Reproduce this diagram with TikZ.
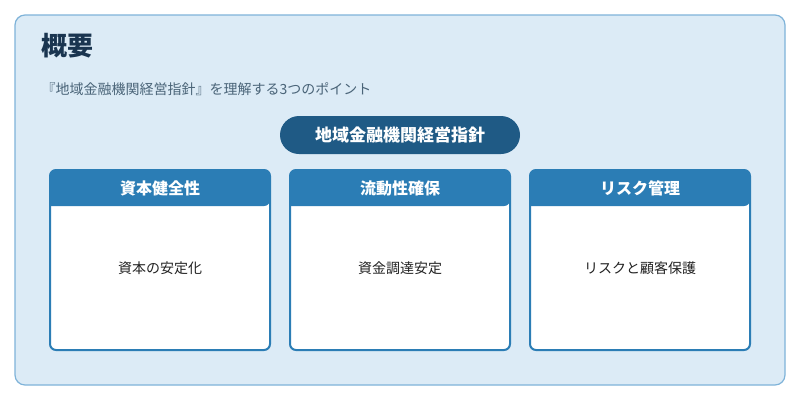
\documentclass[tikz,border=0pt]{standalone}
\usepackage{fontspec}
\setmainfont{Noto Sans CJK JP}
\definecolor{bgc}{HTML}{DCEBF6}
\definecolor{bdc}{HTML}{7FB3D9}
\definecolor{ttl}{HTML}{1A3550}
\definecolor{sub}{HTML}{4A6478}
\definecolor{pill}{HTML}{1F5A85}
\definecolor{hdr}{HTML}{2B7DB5}
\definecolor{txt}{HTML}{222222}
\tikzset{
  hdrtext/.style={text=white,font=\fontsize{16}{18}\selectfont\bfseries},
  bodytext/.style={text=txt,font=\fontsize{14}{16}\selectfont},
}
\begin{document}
\begin{tikzpicture}[x=1pt,y=-1pt]
\useasboundingbox (0,0) rectangle (800,400);
\fill[white] (0,0) rectangle (800,400);
\draw[bdc,fill=bgc,line width=1.2pt,rounded corners=10] (15,15) rectangle (785,385);
\node[anchor=west,text=ttl,font=\fontsize{26}{30}\selectfont\bfseries] (title) at (38,46) {概要};
\node[anchor=west,text=sub,font=\fontsize{14}{16}\selectfont] (subtitle) at (38,89) {『地域金融機関経営指針』を理解する3つのポイント};
\node[fill=pill,rounded corners=19,minimum width=240,minimum height=38,text=white,font=\fontsize{17}{20}\selectfont\bfseries] (pill) at (400,135) {地域金融機関経営指針};
\foreach \x/\h/\b/\n in {50/資本健全性/資本の安定化/a,290/流動性確保/資金調達安定/b,530/リスク管理/リスクと顧客保護/c}{
  \fill[white,rounded corners=6] (\x,170) rectangle ++(220,180);
  \fill[hdr,rounded corners=6] (\x,206) |- (\x+110,170) -| (\x+220,206) [sharp corners] -- cycle;
  \draw[hdr,line width=2pt,rounded corners=6] (\x,170) rectangle ++(220,180);
  \node[hdrtext] (h\n) at (\x+110,188) {\h};
  \node[bodytext] (b\n) at (\x+110,268) {\b};
}
\end{tikzpicture}
\end{document}
